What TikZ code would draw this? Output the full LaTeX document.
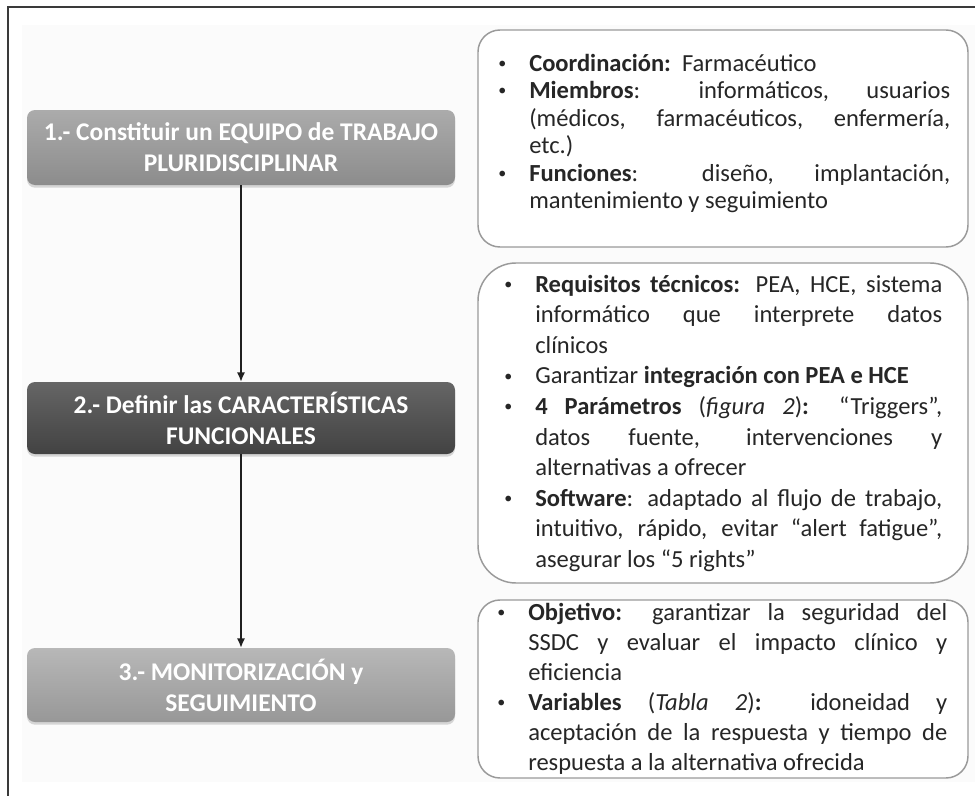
\documentclass[tikz,border=0pt]{standalone}
\usepackage{fontspec}
\setmainfont{Carlito}
\usetikzlibrary{shadows,arrows.meta}

\definecolor{marco}{HTML}{3A3A3A}
\definecolor{fondo}{HTML}{FBFBFB}
\definecolor{borde}{HTML}{9A9A9A}
\definecolor{clarosup}{HTML}{ABABAB}
\definecolor{claroinf}{HTML}{8C8C8C}
\definecolor{oscurosup}{HTML}{666666}
\definecolor{oscuroinf}{HTML}{424242}
\definecolor{flecha}{HTML}{202020}

% viñeta colgada a la izquierda del texto
\newcommand{\punto}[1]{\noindent\strut\llap{\makebox[23.25pt][l]{\raisebox{0.12em}{\fontsize{12pt}{12pt}\selectfont •}}}#1\par}

\tikzset{
  paso/.style={rounded corners=6pt, minimum width=321pt, align=center,
    text=white, font=\bfseries\fontsize{19.1pt}{23.25pt}\selectfont,
    drop shadow={shadow xshift=0pt, shadow yshift=-2pt, opacity=0.3}},
  caja/.style={draw=borde, line width=1.1pt, fill=white, minimum width=367.5pt},
  lista/.style={anchor=north west, inner sep=0pt, align=justify, text=black!85}
}

\begin{document}
\begin{tikzpicture}[x=0.75pt,y=-0.75pt,>={Latex[length=7pt,width=6pt]}]
    \useasboundingbox (0,0) rectangle (975,796);
    \fill[fondo] (22,25) rectangle (975,782);
    \draw[marco, line width=1.9pt] (975,7) -- (8,7) -- (8,796);

    % pasos de la izquierda
    \node[paso, top color=clarosup, bottom color=claroinf, minimum height=56.25pt]
      (equipo) at (241,147.5) {1.- Constituir un EQUIPO de TRABAJO\\PLURIDISCIPLINAR};
    \node[paso, top color=oscurosup, bottom color=oscuroinf, minimum height=54pt]
      (caract) at (241,418) {2.- Definir las CARACTERÍSTICAS\\FUNCIONALES};
    \node[paso, top color=clarosup!85!white, bottom color=claroinf!90!white, minimum height=55.5pt]
      (monitor) at (241,685) {3.- MONITORIZACIÓN y\\SEGUIMIENTO};

    \draw[->, flecha, line width=1pt] (equipo) -- (caract);
    \draw[->, flecha, line width=1pt] (caract) -- (monitor);

    % cajas de la derecha
    \node[caja, minimum height=162.75pt, rounded corners=16.5pt] (marcoequipo) at (723,138.5) {};
    \node[caja, minimum height=240pt, rounded corners=28.5pt] (marcocaract) at (723,423) {};
    \node[caja, minimum height=133.5pt, rounded corners=16.5pt] (marcomonitor) at (723,689) {};

    \node[lista, text width=315.75pt, font=\fontsize{18.4pt}{20.6pt}\selectfont]
      (listaequipo) at (529,51.75) {%
      \punto{\textbf{Coordinación:}\ \ Farmacéutico}
      \punto{\textbf{Miembros}: informáticos, usuarios\linebreak (médicos, farmacéuticos, enfermería,\linebreak etc.)}
      \punto{\textbf{Funciones}: diseño, implantación,\linebreak mantenimiento y seguimiento}};

    \node[lista, text width=305.25pt, font=\fontsize{18.4pt}{22.95pt}\selectfont]
      (listacaract) at (535,270.5) {%
      \punto{\textbf{Requisitos técnicos:} PEA, HCE, sistema\linebreak informático que interprete datos\linebreak clínicos}
      \punto{Garantizar \textbf{integración con PEA e HCE}}
      \punto{\textbf{4 Parámetros} (\textit{figura 2})\textbf{:} “Triggers”,\linebreak datos fuente, intervenciones y\linebreak alternativas a ofrecer}
      \punto{\textbf{Software}: adaptado al flujo de trabajo,\linebreak intuitivo, rápido, evitar “alert fatigue”,\linebreak asegurar los “5 rights”}};

    \node[lista, text width=314.25pt, font=\fontsize{18.4pt}{22.5pt}\selectfont]
      (listamonitor) at (528,599) {%
      \punto{\textbf{Objetivo:} garantizar la seguridad del\linebreak SSDC y evaluar el impacto clínico y\linebreak eficiencia}
      \punto{\textbf{Variables} (\textit{Tabla 2})\textbf{:} idoneidad y\linebreak aceptación de la respuesta y tiempo de\linebreak respuesta a la alternativa ofrecida}};
\end{tikzpicture}
\end{document}
